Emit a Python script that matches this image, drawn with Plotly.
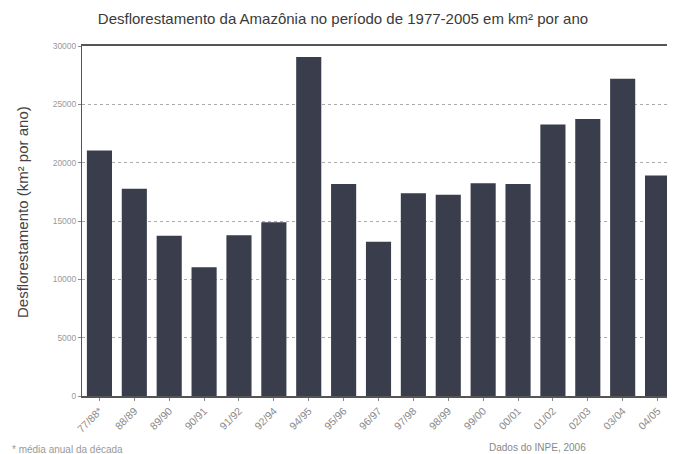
import plotly.graph_objects as go

periods = ["77/88*", "88/89", "89/90", "90/91", "91/92", "92/94", "94/95", "95/96",
           "96/97", "97/98", "98/99", "99/00", "00/01", "01/02", "02/03", "03/04", "04/05"]
deforestation = [21050, 17770, 13730, 11030, 13786, 14896, 29059, 18161,
                 13227, 17383, 17259, 18226, 18165, 23266, 23750, 27200, 18900]
y_ticks = [0, 5000, 10000, 15000, 20000, 25000, 30000]
y_tick_labels = ["0", "5000", "10000", "15000", "20000", "25000", "30000"]

W, H = 667, 446
L, T, B, R = 74, 38, 58, 0
PW, PH = W - L - R, H - T - B

fig = go.Figure(go.Bar(
    x=periods, y=deforestation,
    marker=dict(color="#393d4c", line=dict(width=0)),
))

fig.update_layout(
    width=W, height=H,
    margin=dict(l=L, r=R, t=T, b=B, autoexpand=False),
    paper_bgcolor="white", plot_bgcolor="white",
    bargap=0.28,
    showlegend=False,
    font=dict(family="Liberation Sans, Arial, sans-serif"),
    title=dict(
        text="Desflorestamento da Amazônia no período de 1977-2005 em km² por ano",
        x=335/W, xanchor="center", xref="container", y=1-11/H, yanchor="middle", yref="container",
        font=dict(size=15, color="#3a3a3a"),
    ),
)

fig.update_xaxes(
    tickangle=-45, tickfont=dict(size=10.5, color="#8a8a8a"),
    showline=True, linecolor="#555555", linewidth=1.5, mirror=True,
    ticks="outside", ticklen=3, tickcolor="#888888",
    showgrid=False, range=[-0.5, 16.5], automargin=False,
)
fig.update_yaxes(
    range=[0, 30000], tickvals=y_ticks, ticktext=y_tick_labels,
    tickfont=dict(size=8.5, color="#9a9a9a"),
    showline=True, linecolor="#555555", linewidth=1,
    ticks="outside", ticklen=3, tickcolor="#888888",
    showgrid=True, gridcolor="#aaaaaa", griddash="dot", gridwidth=1,
    automargin=False,
)

fig.add_annotation(text="Desflorestamento (km² por ano)", xref="paper", yref="paper",
                   x=(14 - L) / PW, y=(388 - 204) / PH, textangle=-90,
                   xanchor="center", yanchor="middle", showarrow=False,
                   font=dict(size=15, color="#444444"))
fig.add_annotation(text="* média anual da década", xref="paper", yref="paper",
                   x=(2 - L) / PW, y=-(441 - 388) / PH, xanchor="left", yanchor="middle",
                   showarrow=False, font=dict(size=10, color="#999999"))
fig.add_annotation(text="Dados do INPE, 2006", xref="paper", yref="paper",
                   x=(479 - L) / PW, y=-(439 - 388) / PH, xanchor="left", yanchor="middle",
                   showarrow=False, font=dict(size=10, color="#888888"))

fig.write_html("out.html")
